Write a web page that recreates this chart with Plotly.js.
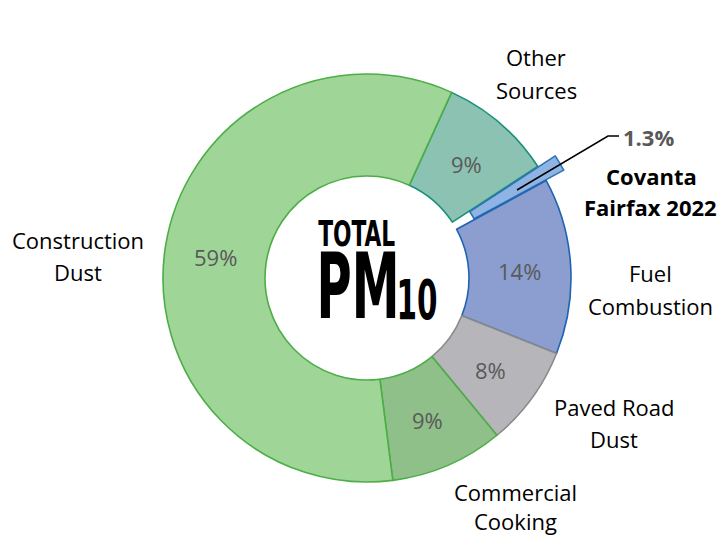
<!DOCTYPE html>
<html>
<head>
<meta charset="utf-8">
<script src="https://cdn.plot.ly/plotly-3.0.1.min.js"></script>
<style>
html,body{margin:0;padding:0;background:#fff;}
#chart{width:722px;height:537px;}
</style>
</head>
<body>
<div id="chart"></div>
<script>
// ---- data ----
const categories = ["Other Sources", "Covanta Fairfax 2022", "Fuel Combustion", "Paved Road Dust", "Commercial Cooking", "Construction Dust"];
const shares = [9, 1.3, 14, 8, 9, 59];
const labelLines = [["Other", "Sources"], ["Covanta", "Fairfax 2022"], ["Fuel", "Combustion"], ["Paved Road", "Dust"], ["Commercial", "Cooking"], ["Construction", "Dust"]];
const centerTitle = ["TOTAL", "PM", "10"];

// ---- styles ----
const fillColors = ["#8cc2b1", "#8fb4e3", "#8b9ecf", "#b6b6ba", "#90c089", "#a0d598"];
const lineColors = ["#17917a", "#2e75b6", "#1f63b3", "#8a8a8a", "#4cae47", "#4cae47"];
const pulls = [0, 0.1, 0, 0, 0, 0];

const W = 722, H = 537;
const CX = 367, CY = 278, R = 204, HOLE = 0.5, MAXPULL = 0.1, ROT = 24.5;
const half = R * (1 + MAXPULL);
const px = x => x / W;
const py = y => 1 - y / H;

const data = [{
  type: "pie",
  labels: categories,
  values: shares,
  sort: false,
  direction: "clockwise",
  rotation: ROT,
  hole: HOLE,
  pull: pulls,
  textinfo: "none",
  marker: {colors: fillColors, line: {color: lineColors, width: 1.6}},
  domain: {x: [px(CX - half), px(CX + half)], y: [1 - (CY + half) / H, 1 - (CY - half) / H]},
  hoverinfo: "none",
  showlegend: false
}];

function ann(text, x, y, font, extra) {
  return Object.assign({
    text: text, x: px(x), y: py(y), xref: "paper", yref: "paper",
    xanchor: "center", yanchor: "middle", showarrow: false,
    font: Object.assign({family: "Open Sans", size: 22, color: "#000"}, font || {})
  }, extra || {});
}

const annotations = [];

// percentage labels at the middle of each ring segment
const total = shares.reduce((a, b) => a + b, 0);
const rMid = R * (1 + HOLE) / 2;
let cum = 0;
shares.forEach(v => {
  const mid = (ROT + 360 * (cum + v / 2) / total) * Math.PI / 180;
  cum += v;
  if (v < 2) return;
  annotations.push(ann(Math.round(v) + "%", CX + rMid * Math.sin(mid), CY - rMid * Math.cos(mid) + 2, {color: "#595959"}));
});

// category labels (pixel centers of each line)
const labelPos = [
  {x: 536, y: [57, 90]},
  null,
  {x: 650, y: [273, 306]},
  {x: 614, y: [407, 439]},
  {x: 515, y: [492, 521]},
  {x: 78, y: [240, 272]}
];
labelPos.forEach((p, i) => {
  if (!p) return;
  labelLines[i].forEach((line, j) => annotations.push(ann(line, p.x, p.y[j])));
});
// Covanta callout
annotations.push(ann(shares[1].toFixed(1) + "%", 648, 137, {weight: 700, color: "#595959"}));
annotations.push(ann(labelLines[1][0], 651, 176, {weight: 700}));
annotations.push(ann(labelLines[1][1], 650, 207, {weight: 700}));

// center title
const condensed = "Liberation Sans Narrow, DejaVu Sans Condensed, Arial Narrow, sans-serif";
annotations.push(ann(centerTitle[0], 356, 234.5, {family: condensed, size: 35, weight: 700}));
annotations.push(ann(centerTitle[1], 357.5, 286.5, {family: condensed, size: 90, weight: 700}));
annotations.push(ann(centerTitle[2], 417, 299, {family: condensed, size: 56, weight: 700}));

const shapes = [{
  type: "path", xref: "paper", yref: "paper",
  path: `M ${px(517)},${py(190)} L ${px(608)},${py(136)} L ${px(619)},${py(136)}`,
  line: {color: "#000", width: 1.5}
}];

const layout = {
  width: W, height: H,
  margin: {l: 0, r: 0, t: 0, b: 0},
  paper_bgcolor: "#fff",
  plot_bgcolor: "#fff",
  showlegend: false,
  annotations: annotations,
  shapes: shapes
};

const inkWidths = {"TOTAL": 77, "PM": 83, "10": 41};

Plotly.newPlot("chart", data, layout, {staticPlot: true, displayModeBar: false}).then(gd => {
  try {
    gd.querySelectorAll(".annotation-text").forEach(t => {
      const w = inkWidths[t.textContent];
      if (!w) return;
      const bb = t.getBBox();
      if (!bb.width) return;
      const s = w / bb.width;
      const cx = bb.x + bb.width / 2;
      t.setAttribute("transform", `translate(${cx},0) scale(${s},1) translate(${-cx},0)`);
    });
  } catch (e) {}
});
</script>
</body>
</html>
